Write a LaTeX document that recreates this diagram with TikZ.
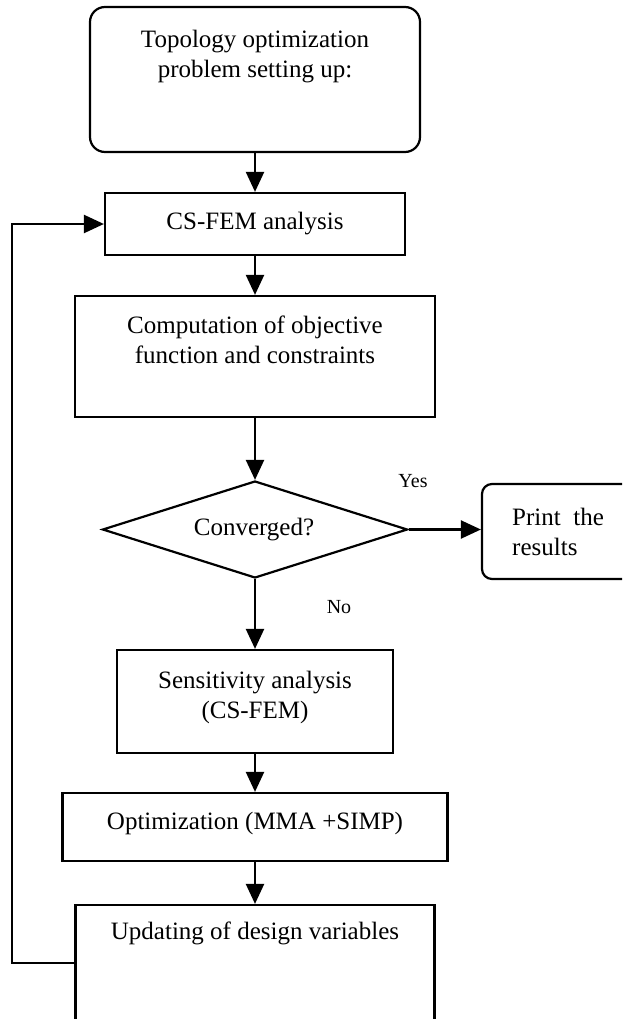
\documentclass[tikz,border=0pt]{standalone}
\usepackage{fontspec}
\setmainfont{Liberation Serif}
\usetikzlibrary{arrows.meta,shapes.geometric}
\tikzset{
  box/.style={draw, line width=2.2pt, inner sep=0pt, minimum width=#1},
  rbox/.style={box=#1, rounded corners=15pt},
  txt/.style={inner sep=0pt, align=center, font=\fontsize{25}{30}\selectfont},
  arr/.style={line width=2.2pt, -{Triangle[length=20pt,width=18pt]}},
}
\begin{document}
\begin{tikzpicture}[x=1pt,y=-1pt]
\useasboundingbox (0,0) rectangle (622,1019);
\clip (0,0) rectangle (622,1019);
\node[rbox=330pt, minimum height=145pt] (top) at (255,79.5) {};
\node[box=300pt, minimum height=62pt] (csfem) at (255,224) {};
\node[box=360pt, minimum height=121pt] (comp) at (255,356.5) {};
\node[draw, line width=2.2pt, shape=diamond, inner sep=0pt, minimum width=305pt, minimum height=97pt] (dia) at (255,529.5) {};
\node[box=168pt, minimum height=95pt, rounded corners=10pt] (print) at (566,531.5) {};
\node[box=276pt, minimum height=103pt] (sens) at (255,701.5) {};
\node[box=385pt, minimum height=68pt] (opt) at (255,827) {};
\node[box=359pt, minimum height=134pt] (upd) at (255,972) {};

\node[txt] (ttop) at (255,57) {Topology optimization\\problem setting up:};
\node[txt] (tcs) at (255,224) {CS-FEM analysis};
\node[txt] (tcomp) at (255,340) {Computation of objective\\function and constraints};
\node[txt] (tdia) at (254,530) {Converged?};
\node[txt, align=left, anchor=west] (tprint) at (512,532) {Print\hspace{0.5em}the\\results};
\node[txt] (tsens) at (255,697.5) {Sensitivity analysis\\(CS-FEM)};
\node[txt] (topt) at (255,823) {Optimization (MMA +SIMP)};
\node[txt] (tupd) at (255,933) {Updating of design variables};
\node[txt, font=\fontsize{20}{24}\selectfont] (yes) at (413,481) {Yes};
\node[txt, font=\fontsize{20}{24}\selectfont] (no) at (339,607) {No};

\draw[arr] (top) -- (csfem);
\draw[arr] (csfem) -- (comp);
\draw[arr] (comp) -- (dia.north);
\draw[arr] (dia.east) -- (dia.east -| print.west);
\draw[arr] (dia.south) -- (sens);
\draw[arr] (sens) -- (opt);
\draw[arr] (opt) -- (upd);
\coordinate (loop) at (12,963);
\draw[arr] (upd.west |- loop) -- (loop) |- (csfem.west);
\end{tikzpicture}
\end{document}
